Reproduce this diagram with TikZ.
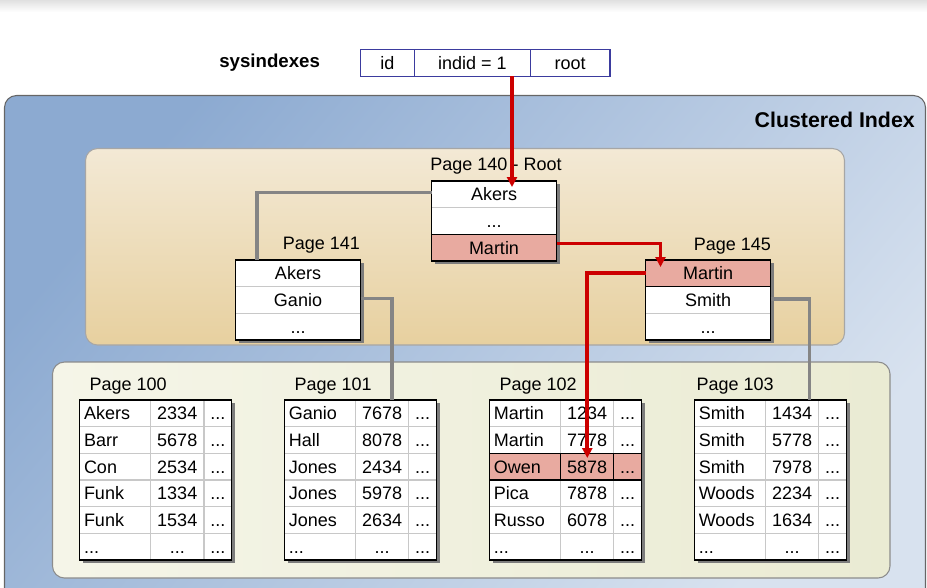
\documentclass[tikz,border=0pt]{standalone}
\usepackage{fontspec}
\setmainfont{Liberation Sans}
\usetikzlibrary{arrows.meta,shadows}
\definecolor{blueA}{HTML}{8CAAD1}
\definecolor{blueB}{HTML}{D8E2EF}
\definecolor{tanTop}{HTML}{F3E9D5}
\definecolor{tanBot}{HTML}{E7D09F}
\definecolor{leafA}{HTML}{F5F5E8}
\definecolor{leafB}{HTML}{EAEBD3}
\definecolor{pinkc}{HTML}{E8AAA0}
\definecolor{redc}{HTML}{CC0000}
\definecolor{grayc}{HTML}{858585}
\definecolor{shadowc}{HTML}{7C7C7C}
\definecolor{sysblue}{HTML}{3B3B9E}
\definecolor{sepc}{HTML}{C8C8C8}
\newcommand\fsn{\fontsize{13.5}{16}\selectfont}
\newcommand\tdots{...}
\tikzset{
  txt/.style={inner sep=0pt, outer sep=0pt, font=\fsn, text height=9.7pt, text depth=0pt},
  lbl/.style={txt},
  syscell/.style={txt, draw=sysblue, line width=0.8pt, minimum height=20pt},
  nlframe/.style={minimum width=93.75pt, minimum height=60pt, inner sep=0pt, outer sep=0pt,
    fill=white, draw=black, line width=0.9pt,
    general shadow={fill=shadowc, shadow xshift=2.4pt, shadow yshift=-2.4pt}},
  nlcell/.style={txt, minimum width=93.75pt, minimum height=20pt},
  leafframe/.style={minimum width=114pt, minimum height=120pt, inner sep=0pt, outer sep=0pt,
    fill=white, draw=black, line width=0.9pt,
    general shadow={fill=shadowc, shadow xshift=2.4pt, shadow yshift=-2.4pt}},
  sepline/.style={draw=sepc, line width=0.8pt},
  darksep/.style={draw=black, line width=0.8pt},
  frameline/.style={draw=black, line width=0.9pt},
  redarrow/.style={draw=redc, line width=2.8pt, -{Triangle[length=7.5pt,width=7.5pt]}},
  grayline/.style={draw=grayc, line width=2.6pt},
}
\newcommand\leaftab[4]{%
  \node[leafframe] (#1) at (#2+76,480) {};
  #4
  \foreach \k in {1,2,3,4,5} {\draw[sepline] (#2,400+\k*26.667) -- (#2+152,400+\k*26.667);}
  \draw[sepline] (#2+71,400) -- (#2+71,560);
  \draw[sepline] (#2+124.5,400) -- (#2+124.5,560);
  \foreach \nm/\nu [count=\r] in {#3} {
    \node[txt, anchor=west] (#1n\r) at (#2+4.5,386.667+\r*26.667) {\nm};
    \node[txt] (#1v\r) at (#2+97.75,386.667+\r*26.667) {\nu};
    \node[txt] (#1d\r) at (#2+138.25,386.667+\r*26.667) {\tdots};
  }
  \draw[frameline] (#1.north west) rectangle (#1.south east);
}
\begin{document}
\begin{tikzpicture}[x=0.75pt,y=-0.75pt]
\useasboundingbox (0,0) rectangle (927,587);
% top band
\shade[top color=black!12, bottom color=white] (0,0) rectangle (927,12);
% outer container
\path[draw=black!60, line width=0.8pt, rounded corners=9pt,
  top color=blueA, bottom color=blueB, shading angle=50] (4.5,95.5) rectangle (925.5,600);
\node[font=\fontsize{16}{19}\selectfont\bfseries, inner sep=0pt, anchor=east] (title) at (915,120) {Clustered Index};
% sysindexes
\node[font=\fontsize{14}{17}\selectfont\bfseries, inner sep=0pt, anchor=west] (syslbl) at (219,62.7) {sysindexes};
\node[syscell, minimum width=40.5pt] (sI1) at (387.3,62.7) {id};
\node[syscell, minimum width=87pt] (sI2) at (472.3,62.7) {indid = 1};
\node[syscell, minimum width=59.8pt] (sI3) at (570.15,62.7) {root};
% tan container
\path[draw=black!35, line width=0.8pt, rounded corners=9pt,
  top color=tanTop, bottom color=tanBot] (85.5,148.5) rectangle (844.5,345);
% leaf container
\path[draw=black!45, line width=0.8pt, rounded corners=9pt,
  left color=leafA, right color=leafB] (52.5,362) rectangle (890,578);
% root page
\node[lbl] (l140) at (496,164) {Page 140 - Root};
\node[nlframe] (root) at (494,221) {};
\fill[pinkc] (431.5,234.33) rectangle (556.5,261);
\draw[sepline] (431.5,207.67) -- (556.5,207.67);
\draw[darksep] (431.5,234.33) -- (556.5,234.33);
\node[nlcell] (rA) at (494,194.33) {Akers};
\node[nlcell] (rD) at (494,221) {\tdots};
\node[nlcell] (rM) at (494,247.67) {Martin};
\draw[frameline] (root.north west) rectangle (root.south east);
% page 141
\node[lbl, anchor=east] (l141) at (360,243.5) {Page 141};
\node[nlframe] (p141) at (298,300) {};
\draw[sepline] (235.5,286.67) -- (360.5,286.67);
\draw[sepline] (235.5,313.33) -- (360.5,313.33);
\node[nlcell] (aA) at (298,273.33) {Akers};
\node[nlcell] (aG) at (298,300) {Ganio};
\node[nlcell] (aD) at (298,326.67) {\tdots};
\draw[frameline] (p141.north west) rectangle (p141.south east);
% page 145
\node[lbl, anchor=east] (l145) at (771,244) {Page 145};
\node[nlframe] (p145) at (708,300) {};
\fill[pinkc] (645.5,260) rectangle (770.5,286.67);
\draw[darksep] (645.5,286.67) -- (770.5,286.67);
\draw[sepline] (645.5,313.33) -- (770.5,313.33);
\node[nlcell] (bM) at (708,273.33) {Martin};
\node[nlcell] (bS) at (708,300) {Smith};
\node[nlcell] (bD) at (708,326.67) {\tdots};
\draw[frameline] (p145.north west) rectangle (p145.south east);
% leaf pages
\node[lbl, anchor=west] (l100) at (89.5,384) {Page 100};
\node[lbl, anchor=west] (l101) at (294.5,384) {Page 101};
\node[lbl, anchor=west] (l102) at (499.5,384) {Page 102};
\node[lbl, anchor=west] (l103) at (696.5,384) {Page 103};
\leaftab{t100}{79.5}{Akers/2334,Barr/5678,Con/2534,Funk/1334,Funk/1534,\tdots/\tdots}{}
\leaftab{t101}{284.3}{Ganio/7678,Hall/8078,Jones/2434,Jones/5978,Jones/2634,\tdots/\tdots}{}
\leaftab{t102}{489.3}{Martin/1234,Martin/7778,Owen/5878,Pica/7878,Russo/6078,\tdots/\tdots}{\fill[pinkc] (489.3,453.33) rectangle (641.3,480);}
\leaftab{t103}{694.3}{Smith/1434,Smith/5778,Smith/7978,Woods/2234,Woods/1634,\tdots/\tdots}{}
\draw[darksep] (489.3,453.33) -- (641.3,453.33);
\draw[darksep] (489.3,480) -- (641.3,480);
\draw[darksep] (560.3,453.33) -- (560.3,480);
\draw[darksep] (613.8,453.33) -- (613.8,480);
% connector end points
\coordinate (indTop) at (512,76);
\coordinate (rootHit) at (512,187);
\coordinate (m145Hit) at (660.5,267);
\coordinate (owenHit) at (587.3,458);
\coordinate (p141Top) at (257,260);
\coordinate (p101Top) at (392,400);
\coordinate (p103Top) at (809.3,400);
% gray connectors
\draw[grayline] ([yshift=1.5pt]rA.west) -| (p141Top);
\draw[grayline] ([yshift=1pt]aG.east) -| (p101Top);
\draw[grayline] ([yshift=0.8pt]bS.east) -| (p103Top);
% red connectors
\draw[redarrow] (indTop) -- (rootHit);
\draw[redarrow] ([yshift=3.1pt]rM.east) -| (m145Hit);
\draw[redarrow] (bM.west) -| (owenHit);
\end{tikzpicture}
\end{document}
